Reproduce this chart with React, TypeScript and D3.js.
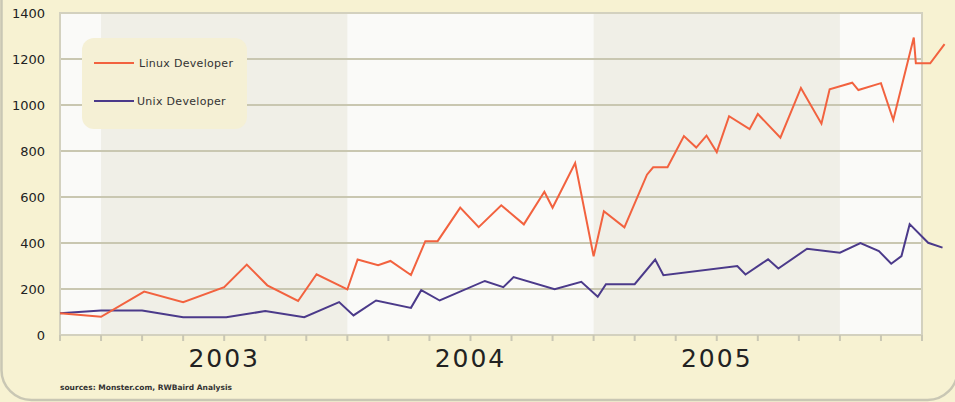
import React, { useRef, useEffect } from 'react';
import * as d3 from 'd3';

// x values are months counted from Nov 2002
const linuxMonths = [0, 2, 4.1, 6, 8, 9.1, 10.1, 11.6, 12.5, 14, 14.5, 15.5, 16.1, 17.1, 17.8, 18.4, 19.5, 20.4, 21.5, 22.6, 23.6, 24, 25.1, 26, 26.5, 27.5, 28.6, 28.9, 29.6, 30.4, 31, 31.5, 32, 32.6, 33.6, 34, 35.1, 36.1, 37.1, 37.5, 38.6, 38.9, 40, 40.6, 41.6, 41.7, 42.4, 43.1];
const linuxValues = [95, 79, 189, 143, 208, 306, 216, 148, 264, 198, 328, 303, 322, 261, 408, 408, 554, 469, 564, 481, 623, 553, 748, 342, 538, 468, 697, 729, 729, 865, 815, 867, 795, 951, 895, 961, 858, 1074, 919, 1068, 1097, 1065, 1095, 935, 1293, 1181, 1181, 1265];

const unixMonths = [0, 2, 4, 6, 8.1, 10, 11.9, 13.6, 14.3, 15.4, 17.1, 17.6, 18.5, 20.7, 21.6, 22.1, 24.1, 25.4, 26.2, 26.6, 28, 29, 29.4, 33, 33.4, 34.5, 35, 36.4, 38, 39, 39.9, 40.5, 41, 41.4, 42.3, 43];
const unixValues = [95, 107, 107, 77, 77, 104, 77, 143, 85, 150, 118, 195, 150, 235, 208, 252, 199, 231, 166, 221, 221, 328, 260, 300, 263, 329, 289, 375, 358, 400, 365, 310, 343, 482, 401, 380];

const yTicks = [0, 200, 400, 600, 800, 1000, 1200, 1400];
const years = ['2003', '2004', '2005'];
const yearStarts = [2, 14, 26]; // Jan of each year
const shadedYears = [0, 2];

const App = () => {
  const svgRef = useRef<SVGSVGElement>(null);

  useEffect(() => {
    const svg = d3.select(svgRef.current);
    svg.selectAll('*').remove();

    const W = 955;
    const H = 402;
    const margin = { top: 13, right: 33, bottom: 67, left: 60 };
    const width = W - margin.left - margin.right;
    const height = H - margin.top - margin.bottom;

    const x = d3.scaleLinear().domain([0, 42]).range([margin.left, margin.left + width]);
    const y = d3.scaleLinear().domain([0, 1400]).range([margin.top + height, margin.top]);

    // background frame
    svg.append('rect').attr('width', W).attr('height', H).attr('fill', '#f7f2d2');
    svg
      .append('rect')
      .attr('x', 1.5)
      .attr('y', -40)
      .attr('width', 956)
      .attr('height', 440)
      .attr('rx', 30)
      .attr('fill', 'none')
      .attr('stroke', '#c9c7b4')
      .attr('stroke-width', 2.5);

    // plot area
    svg
      .append('rect')
      .attr('x', x(0))
      .attr('y', y(1400))
      .attr('width', x(42) - x(0))
      .attr('height', y(0) - y(1400))
      .attr('fill', '#fafaf8');

    shadedYears.forEach((i) => {
      svg
        .append('rect')
        .attr('x', x(yearStarts[i]))
        .attr('y', y(1400))
        .attr('width', x(yearStarts[i] + 12) - x(yearStarts[i]))
        .attr('height', y(0) - y(1400))
        .attr('fill', '#f0efe7');
    });

    // gridlines
    svg
      .append('g')
      .selectAll('line')
      .data(yTicks)
      .enter()
      .append('line')
      .attr('x1', x(0))
      .attr('x2', x(42))
      .attr('y1', (d) => y(d))
      .attr('y2', (d) => y(d))
      .style('stroke', '#c9c7b1')
      .style('stroke-width', 2);

    // plot border
    svg
      .append('rect')
      .attr('x', x(0))
      .attr('y', y(1400))
      .attr('width', x(42) - x(0))
      .attr('height', y(0) - y(1400))
      .attr('fill', 'none')
      .attr('stroke', '#d3d1bf')
      .attr('stroke-width', 2);

    // x ticks every 2 months
    svg
      .append('g')
      .selectAll('line')
      .data(d3.range(0, 43, 2))
      .enter()
      .append('line')
      .attr('x1', (d) => x(d))
      .attr('x2', (d) => x(d))
      .attr('y1', y(0))
      .attr('y2', y(0) + 6)
      .style('stroke', '#c9c7b4')
      .style('stroke-width', 2);

    // y labels
    svg
      .append('g')
      .selectAll('text')
      .data(yTicks)
      .enter()
      .append('text')
      .attr('x', 45)
      .attr('y', (d) => y(d))
      .attr('dy', '0.35em')
      .attr('text-anchor', 'end')
      .style('font-family', 'DejaVu Sans, sans-serif')
      .style('font-size', '13px')
      .style('font-weight', 500)
      .style('fill', '#222')
      .text((d) => d);

    // year labels
    svg
      .append('g')
      .selectAll('text')
      .data(years)
      .enter()
      .append('text')
      .attr('x', (d, i) => x(yearStarts[i] + 6))
      .attr('y', 367)
      .attr('text-anchor', 'middle')
      .style('font-family', 'DejaVu Sans, sans-serif')
      .style('font-size', '25px')
      .style('letter-spacing', '2px')
      .style('fill', '#222')
      .text((d) => d);

    // lines
    const line = d3
      .line<[number, number]>()
      .x((d) => x(d[0]))
      .y((d) => y(d[1]));

    const linuxData = linuxMonths.map((m, i) => [m, linuxValues[i]] as [number, number]);
    const unixData = unixMonths.map((m, i) => [m, unixValues[i]] as [number, number]);

    svg
      .append('path')
      .datum(unixData)
      .attr('d', line)
      .attr('fill', 'none')
      .attr('stroke', '#4b3a8a')
      .attr('stroke-width', 2);

    svg
      .append('path')
      .datum(linuxData)
      .attr('d', line)
      .attr('fill', 'none')
      .attr('stroke', '#f2623f')
      .attr('stroke-width', 2);

    // legend
    const legend = svg.append('g');
    legend
      .append('rect')
      .attr('x', 82)
      .attr('y', 38)
      .attr('width', 165)
      .attr('height', 91)
      .attr('rx', 12)
      .attr('fill', '#f5f0d5');
    const items = [
      { name: 'Linux Developer', color: '#f2623f', y: 63, tx: 139 },
      { name: 'Unix Developer', color: '#4b3a8a', y: 101, tx: 137 },
    ];
    items.forEach((it) => {
      legend
        .append('line')
        .attr('x1', 94)
        .attr('x2', 134)
        .attr('y1', it.y)
        .attr('y2', it.y)
        .style('stroke', it.color)
        .style('stroke-width', 2);
      legend
        .append('text')
        .attr('x', it.tx)
        .attr('y', it.y)
        .attr('dy', '0.35em')
        .style('font-family', 'DejaVu Sans, sans-serif')
        .style('font-size', '11px')
        .style('letter-spacing', '0.3px')
        .style('fill', '#333')
        .text(it.name);
    });

    // source
    svg
      .append('text')
      .attr('x', 60)
      .attr('y', 390)
      .style('font-family', 'DejaVu Sans, sans-serif')
      .style('font-size', '7.5px')
      .style('font-weight', 'bold')
      .style('fill', '#333')
      .text('sources: Monster.com, RWBaird Analysis');
  }, []);

  return <svg ref={svgRef} width={955} height={402} style={{ display: 'block', position: 'absolute', left: 0, top: 0 }} />;
};

export default App;
